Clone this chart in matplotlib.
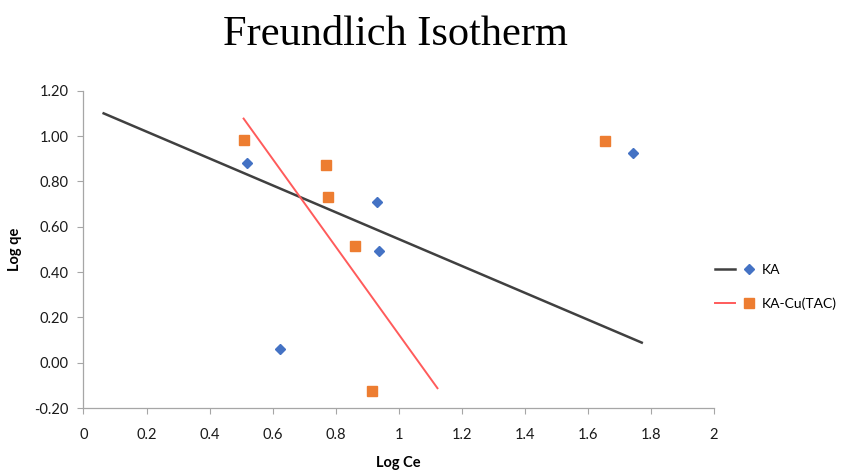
import matplotlib.pyplot as plt
from matplotlib.legend_handler import HandlerTuple
from matplotlib.lines import Line2D

# scatter data (Log Ce, Log qe)
ka_x = [0.518, 0.624, 0.932, 0.938, 1.744]
ka_y = [0.882, 0.062, 0.710, 0.491, 0.924]
cu_x = [0.508, 0.769, 0.777, 0.862, 0.915, 1.654]
cu_y = [0.984, 0.874, 0.732, 0.516, -0.123, 0.978]

# trend lines as drawn in the chart
ka_line_x = [0.064, 1.771]
ka_line_y = [1.10, 0.089]
cu_line_x = [0.508, 1.123]
cu_line_y = [1.077, -0.112]

x_ticks = [0, 0.2, 0.4, 0.6, 0.8, 1, 1.2, 1.4, 1.6, 1.8, 2]
x_tick_labels = ["0", "0.2", "0.4", "0.6", "0.8", "1", "1.2", "1.4", "1.6", "1.8", "2"]
y_ticks = [-0.2, 0.0, 0.2, 0.4, 0.6, 0.8, 1.0, 1.2]
y_tick_labels = ["-0.20", "0.00", "0.20", "0.40", "0.60", "0.80", "1.00", "1.20"]

BLUE = "#4472C4"
ORANGE = "#ED7D31"
DARK = "#404040"
RED = "#FF5B5B"
AXIS = "#A6A6A6"

plt.rcParams["font.family"] = ["Lato", "DejaVu Sans"]

fig = plt.figure(figsize=(8.44, 4.76), dpi=100)
ax = fig.add_axes([0.0989, 0.1425, 0.7470, 0.6670])

ax.plot(ka_line_x, ka_line_y, color=DARK, lw=1.8, zorder=2)
ax.plot(cu_line_x, cu_line_y, color=RED, lw=1.4, zorder=2)
ax.plot(ka_x, ka_y, ls="none", marker="D", ms=5, color=BLUE, zorder=3)
ax.plot(cu_x, cu_y, ls="none", marker="s", ms=6.5, color=ORANGE, zorder=3)

ax.set_xlim(0, 2)
ax.set_ylim(-0.2, 1.2)
ax.set_xticks(x_ticks)
ax.set_xticklabels(x_tick_labels)
ax.set_yticks(y_ticks)
ax.set_yticklabels(y_tick_labels)
ax.tick_params(axis="both", direction="out", length=4.5, width=0.8, color=AXIS,
               labelsize=10.5, labelcolor="#1a1a1a")
ax.tick_params(axis="x", pad=10)
ax.tick_params(axis="y", pad=6)
for side in ("top", "right"):
    ax.spines[side].set_visible(False)
for side in ("left", "bottom"):
    ax.spines[side].set_color(AXIS)
    ax.spines[side].set_linewidth(0.9)

ax.set_xlabel("Log Ce", fontsize=10.5, fontweight="bold", labelpad=10)
ax.set_ylabel("Log qe", fontsize=10.5, fontweight="bold", labelpad=9)

fig.text(0.469, 0.926, "Freundlich Isotherm", ha="center", va="center",
         family="Liberation Serif", fontsize=30.5)

ka_handle = (Line2D([], [], color=DARK, lw=1.8),
             Line2D([], [], ls="none", marker="D", ms=5, color=BLUE))
cu_handle = (Line2D([], [], color=RED, lw=1.4),
             Line2D([], [], ls="none", marker="s", ms=6.5, color=ORANGE))
fig.legend([ka_handle, cu_handle], ["KA", "KA-Cu(TAC)"],
           handler_map={tuple: HandlerTuple(ndivide=None, pad=0.3)},
           loc="center left", bbox_to_anchor=(0.832, 0.397), frameon=False,
           fontsize=10, handlelength=3.2, handletextpad=0.2, labelspacing=1.5)

fig.savefig("out.png", dpi=100)
